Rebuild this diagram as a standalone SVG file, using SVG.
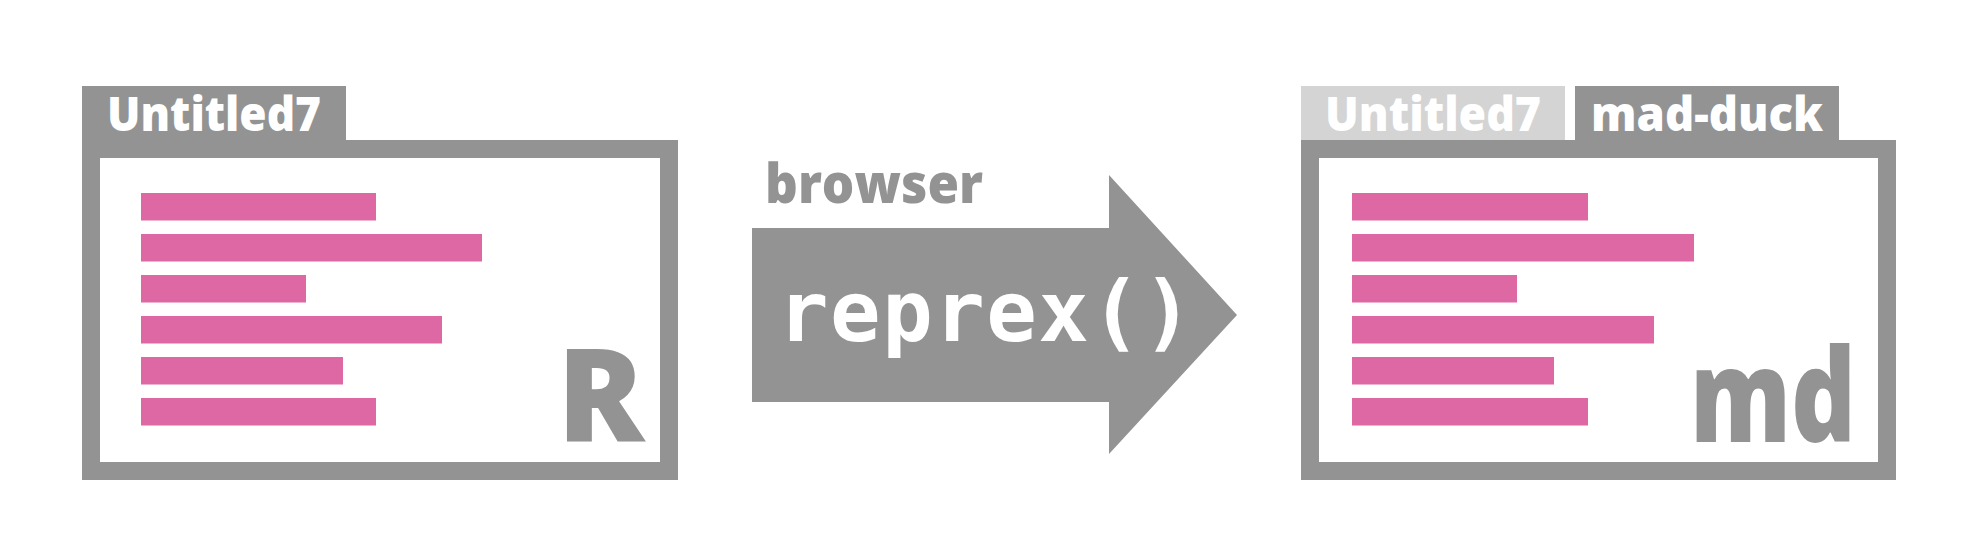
<svg xmlns="http://www.w3.org/2000/svg" width="1988" height="550" viewBox="0 0 1988 550">
<style>
.g{fill:#939393}
.lg{fill:#d4d4d4}
.w{fill:#ffffff}
.bar{fill:#de68a3}
.tab{font-family:"Open Sans","Noto Sans","Liberation Sans",sans-serif;font-weight:800;font-size:48px;fill:#ffffff}
.big{font-family:"Open Sans","Noto Sans","Liberation Sans",sans-serif;font-weight:800;font-size:129px;fill:#939393}
.lbl{font-family:"Open Sans","Noto Sans","Liberation Sans",sans-serif;font-weight:800;font-size:54px;fill:#939393}
.code{font-family:"DejaVu Sans Mono","Liberation Mono",monospace;font-weight:700;font-size:84px;letter-spacing:1.5px;fill:#ffffff}
</style>
<rect width="1988" height="550" fill="#ffffff"/>
<g id="window-left">
<rect class="g" x="82" y="86" width="264" height="60"/>
<rect class="g" x="82" y="140" width="596" height="340"/>
<rect class="w" x="100" y="158" width="560" height="304"/>
<text class="tab" x="107" y="131" textLength="214" lengthAdjust="spacingAndGlyphs">Untitled7</text>
<rect class="bar" x="141" y="193" width="235" height="27.5"/>
<rect class="bar" x="141" y="234" width="341" height="27.5"/>
<rect class="bar" x="141" y="275" width="165" height="27.5"/>
<rect class="bar" x="141" y="316" width="301" height="27.5"/>
<rect class="bar" x="141" y="357" width="202" height="27.5"/>
<rect class="bar" x="141" y="398" width="235" height="27.5"/>
<text class="big" x="557" y="442">R</text>
</g>
<g id="connectors">
<g id="arrow">
<polygon class="g" points="752,228 1109,228 1109,175 1237,315 1109,454 1109,402 752,402"/>
<text class="lbl" x="765" y="203" textLength="218" lengthAdjust="spacingAndGlyphs">browser</text>
<text class="code" x="778" y="341">reprex()</text>
</g>
</g>
<g id="window-right">
<rect class="lg" x="1301" y="86" width="264" height="60"/>
<rect class="g" x="1575" y="86" width="264" height="60"/>
<rect class="g" x="1301" y="140" width="595" height="340"/>
<rect class="w" x="1319" y="158" width="559" height="304"/>
<text class="tab" x="1325" y="131" textLength="216" lengthAdjust="spacingAndGlyphs">Untitled7</text>
<text class="tab" x="1591" y="131" textLength="232" lengthAdjust="spacingAndGlyphs">mad-duck</text>
<rect class="bar" x="1352" y="193" width="236" height="27.5"/>
<rect class="bar" x="1352" y="234" width="342" height="27.5"/>
<rect class="bar" x="1352" y="275" width="165" height="27.5"/>
<rect class="bar" x="1352" y="316" width="302" height="27.5"/>
<rect class="bar" x="1352" y="357" width="202" height="27.5"/>
<rect class="bar" x="1352" y="398" width="236" height="27.5"/>
<text class="big" x="1690" y="442" textLength="166" lengthAdjust="spacingAndGlyphs">md</text>
</g>
</svg>
